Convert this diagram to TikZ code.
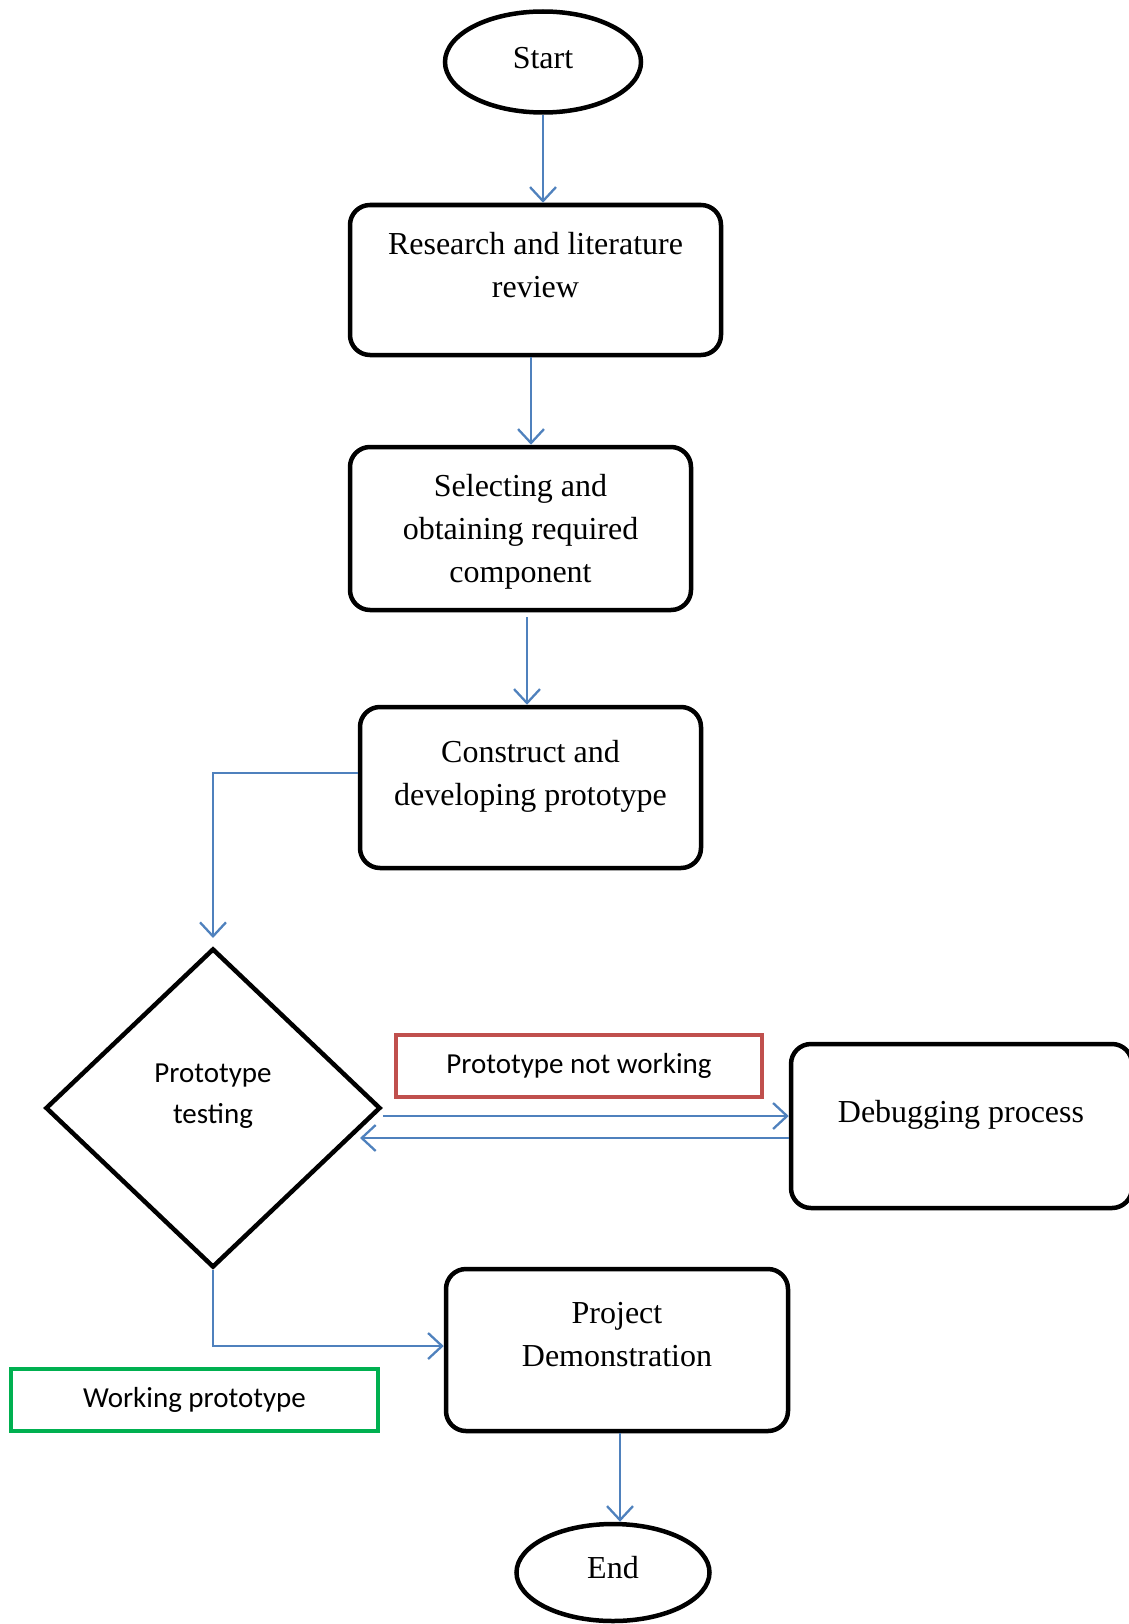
\documentclass[tikz,border=0pt]{standalone}
\usepackage{fontspec}
\setmainfont{Liberation Serif}
\newfontfamily\calib{Carlito}
\usetikzlibrary{shapes.geometric,arrows.meta}
\definecolor{lnblue}{HTML}{4F81BD}
\definecolor{lnred}{HTML}{C0504D}
\definecolor{lngreen}{HTML}{00B050}
\tikzset{
  boxshape/.style={draw, line width=4.5pt, rounded corners=20pt, inner sep=0pt},
  termshape/.style={ellipse, draw, line width=4.5pt, inner sep=0pt, font=\fontsize{32}{43}\selectfont},
  ser/.style={align=center, inner sep=0pt, font=\fontsize{32}{43}\selectfont},
  sans/.style={align=center, inner sep=0pt, font=\calib\fontsize{29}{41}\selectfont},
  labbox/.style={draw, line width=4.5pt, inner sep=0pt, font=\calib\fontsize{29}{41}\selectfont},
  arr/.style={draw=lnblue, line width=2.3pt, -{Straight Barb[length=14pt,width=26pt]}}
}
\begin{document}
\begin{tikzpicture}[x=1pt,y=-1pt]
\useasboundingbox (0,0) rectangle (1128,1624);

% shapes
\node[termshape, minimum width=196pt, minimum height=101pt] (start) at (543,62) {};
\node[ser] (starttxt) at (543,58) {Start};

\node[boxshape, minimum width=371pt, minimum height=150pt] (research) at (535.5,280) {};
\node[ser] (researchtxt) at (535.5,265) {Research and literature\\review};

\node[boxshape, minimum width=341pt, minimum height=163pt] (select) at (520.5,528.5) {};
\node[ser] (selecttxt) at (520.5,531.5) {Selecting and\\obtaining required\\component};

\node[boxshape, minimum width=341pt, minimum height=161pt] (construct) at (530.5,787.5) {};
\node[ser] (constructtxt) at (530.5,776) {Construct and\\developing prototype};

\node[diamond, draw, line width=4.5pt, inner sep=0pt, minimum width=335pt, minimum height=319pt] (test) at (213,1108) {};
\node[sans] (testtxt) at (213,1096.5) {Prototype\\testing};

\node[labbox, draw=lnred, minimum width=366pt, minimum height=62pt] (notwork) at (579,1066) {Prototype not working};

\node[boxshape, minimum width=341pt, minimum height=164pt] (debug) at (961.5,1126) {};
\node[ser] (debugtxt) at (961,1114.5) {Debugging process};

\node[labbox, draw=lngreen, minimum width=367pt, minimum height=62pt] (work) at (194.5,1400) {Working prototype};

\node[boxshape, minimum width=342pt, minimum height=162pt] (project) at (617,1350) {};
\node[ser] (projecttxt) at (617,1335) {Project\\Demonstration};

\node[termshape, minimum width=193pt, minimum height=97pt] (end) at (613,1572.5) {};
\node[ser] (endtxt) at (613,1568) {End};

% helper coordinates
\coordinate (x1) at (531,0);
\coordinate (x2) at (527,0);
\coordinate (x3) at (620,0);
\coordinate (ycon) at (0,773);
\coordinate (bend1) at (213,773);
\coordinate (tip1) at (213,938);
\coordinate (yfwd) at (0,1116);
\coordinate (yback) at (0,1138);
\coordinate (tipback) at (360,1138);
\coordinate (bend2) at (213,1346);

% connectors
\draw[arr] (start.south) -- (start.south |- research.north);
\draw[arr] (research.south -| x1) -- (select.north -| x1);
\draw[arr] ([yshift=-5pt]select.south -| x2) -- (construct.north -| x2);
\draw[arr] (construct.west |- ycon) -- (bend1) -- (tip1);
\draw[arr] (test.east |- yfwd) -- (debug.west |- yfwd);
\draw[arr] (debug.west |- yback) -- (tipback);
\draw[arr] (test.south) -- (bend2) -- (project.west |- bend2);
\draw[arr] (project.south -| x3) -- (end.north -| x3);
\end{tikzpicture}
\end{document}
